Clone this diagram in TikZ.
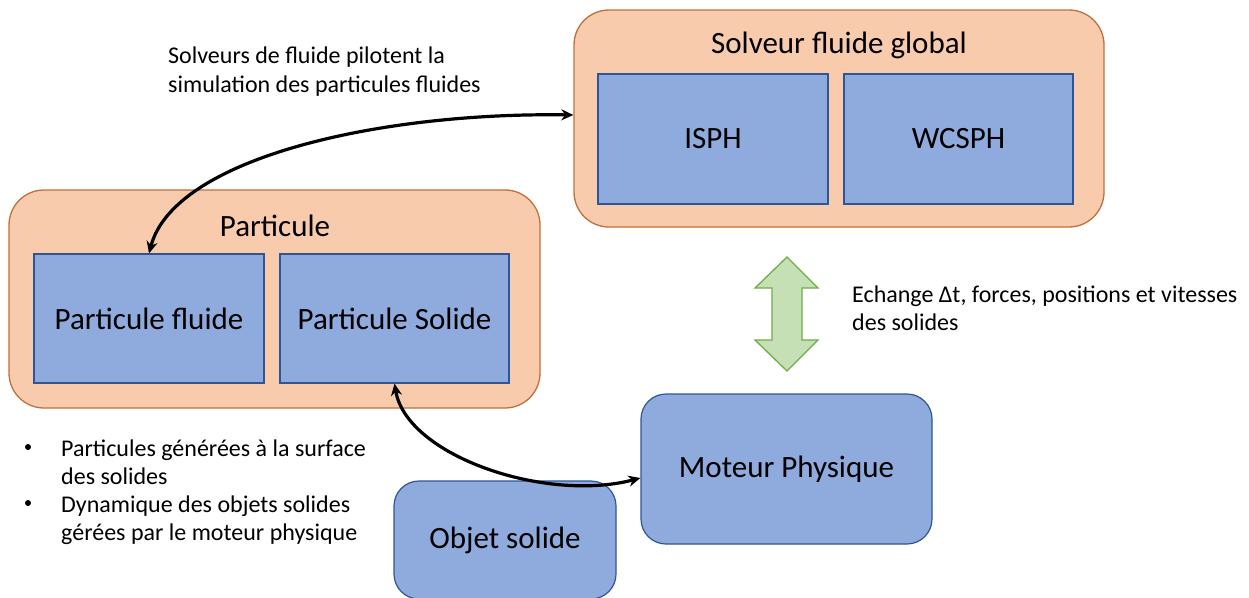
\documentclass[tikz,border=0pt]{standalone}
\usepackage{fontspec}
\setmainfont{Carlito}
\usetikzlibrary{arrows.meta}
\definecolor{orfill}{HTML}{F8CBAD}
\definecolor{ordraw}{HTML}{C0703A}
\definecolor{blfill}{HTML}{8FAADC}
\definecolor{bldraw}{HTML}{2F5597}
\definecolor{grfill}{HTML}{C5E0B4}
\definecolor{grdraw}{HTML}{70AD47}
\tikzset{
  outerbox/.style={draw=ordraw, fill=orfill, line width=1.3pt, rounded corners=35pt, inner sep=0pt},
  innerbox/.style={draw=bldraw, fill=blfill, line width=1.2pt, inner sep=0pt, font=\fontsize{31}{36}\selectfont},
  roundbox/.style={innerbox, rounded corners=25pt},
  title/.style={font=\fontsize{31}{36}\selectfont, inner sep=0pt},
  note/.style={font=\fontsize{24}{29}\selectfont, inner sep=0pt, anchor=base west},
  bullet/.style={fill=black, circle, inner sep=0pt, minimum size=6pt},
  link/.style={line width=3.2pt, {Stealth[length=12pt,width=11pt]}-{Stealth[length=12pt,width=11pt]}},
}
\begin{document}
\begin{tikzpicture}[x=1pt,y=-1pt]
\useasboundingbox (0,0) rectangle (1249,597);
% Solveur
\node[outerbox, minimum width=530pt, minimum height=217pt] (solveur) at (839,118.5) {};
\node[title] (soltitle) at (839,45) {Solveur fluide global};
\node[innerbox, minimum width=230pt, minimum height=130pt] (isph) at (713,139) {ISPH};
\node[innerbox, minimum width=229pt, minimum height=130pt] (wcsph) at (958.5,139) {WCSPH};
% Particule
\node[outerbox, minimum width=531pt, minimum height=218pt] (particule) at (274.5,299) {};
\node[title] (parttitle) at (275,226) {Particule};
\node[innerbox, minimum width=230pt, minimum height=129pt] (pfluide) at (149,318.5) {Particule fluide};
\node[innerbox, minimum width=229pt, minimum height=129pt] (psolide) at (394.5,318.5) {Particule Solide};
% Moteur / Objet
\node[roundbox, minimum width=291pt, minimum height=150pt] (moteur) at (786.5,469) {Moteur Physique};
\node[roundbox, minimum width=222pt, minimum height=118pt] (objet) at (505,540) {Objet solide};
% green double arrow
\draw[draw=grdraw, fill=grfill, line width=1.3pt]
  (787,257) -- (818,288) -- (802,288) -- (802,340) -- (818,340) -- (787,371)
  -- (755,340) -- (772,340) -- (772,288) -- (755,288) -- cycle;
% notes
\node[note] (n1a) at (168,63) {Solveurs de fluide pilotent la};
\node[note] (n1b) at (168,92) {simulation des particules fluides};
\node[note] (n2a) at (852,302) {Echange Δt, forces, positions et vitesses};
\node[note] (n2b) at (852,330) {des solides};
\node[bullet] (b1) at (28,447) {};
\node[note] (t1a) at (61,456) {Particules générées à la surface};
\node[note] (t1b) at (61,484) {des solides};
\node[bullet] (b2) at (28,503) {};
\node[note] (t2a) at (61,512) {Dynamique des objets solides};
\node[note] (t2b) at (61,540) {gérées par le moteur physique};
% connectors
\draw[link] ([yshift=3.5pt]solveur.west) .. controls +(-195,-3) and +(25,-95) .. (pfluide.north);
\draw[link] (psolide.south) .. controls +(12,72) and +(-95,25) .. ([yshift=-9pt]moteur.west);
\end{tikzpicture}
\end{document}
